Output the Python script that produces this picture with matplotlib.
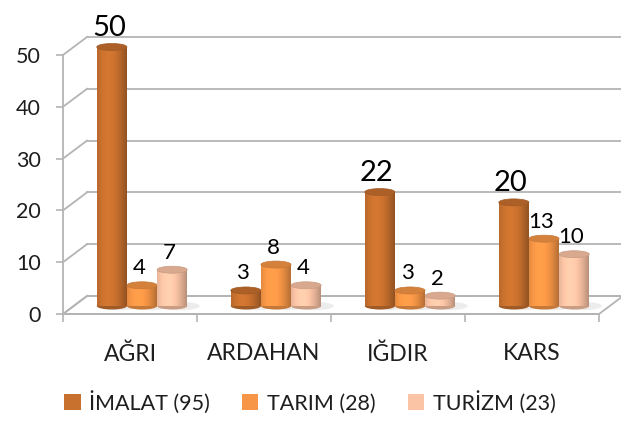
import numpy as np
import matplotlib
matplotlib.use('Agg')
import matplotlib.pyplot as plt
from matplotlib.patches import Ellipse, Polygon, Patch
from matplotlib import transforms as mtransforms
from matplotlib.colors import to_rgb

plt.rcParams['font.family'] = ['Lato', 'DejaVu Sans']

# veriler
iller = ['AĞRI', 'ARDAHAN', 'IĞDIR', 'KARS']
imalat = [50, 3, 22, 20]
tarim = [4, 8, 3, 13]
turizm = [7, 4, 2, 10]
seri_adlari = ['İMALAT (95)', 'TARIM (28)', 'TURİZM (23)']
seriler = [imalat, tarim, turizm]
renkler = ['#c8702e', '#f79646', '#fbc4a5']
y_ticks = [0, 10, 20, 30, 40, 50]

grid_c = '#b4b4b4'
text_c = '#1e1e1e'

fig = plt.figure(figsize=(6.21, 4.23), dpi=100)
ax = fig.add_axes([63 / 621, 109 / 423, 536 / 621, 259 / 423])
ax.set_xlim(-0.5, 3.5)
ax.set_ylim(0, 50)

# derinlik kaydirmalari (piksel)
back = mtransforms.offset_copy(ax.transData, fig=fig, x=24, y=18, units='dots')
mid = mtransforms.offset_copy(ax.transData, fig=fig, x=12, y=8, units='dots')
ident = mtransforms.IdentityTransform()

# taban
fig.canvas.draw()
on = ax.transData.transform([(-0.5, 0), (3.5, 0)])
taban = np.vstack([on, on[::-1] + [24, 18]])
ax.add_patch(Polygon(taban, closed=True, facecolor='white', edgecolor=grid_c,
                     lw=1.3, transform=ident, clip_on=False, zorder=1))

# arka duvar cizgileri + sol duvar kosegenleri
for v in y_ticks:
    ax.plot([-0.5, 3.5], [v, v], color=grid_c, lw=1.3, transform=back,
            clip_on=False, zorder=1)
    p = ax.transData.transform([(-0.5, v)])[0]
    ax.plot([p[0], p[0] + 24], [p[1], p[1] + 18], color=grid_c, lw=1.3,
            transform=ident, clip_on=False, zorder=1)


def golge(base, f):
    c = np.array(to_rgb(base)) * f
    return tuple(np.clip(c, 0, 1))


w = 0.225
n = 30
t = (np.arange(n) + 0.5) / n
shade = 0.72 + 0.34 * np.cos((t - 0.38) * np.pi / 1.25)
eh = 7 / 5.18

for j, (vals, col) in enumerate(zip(seriler, renkler)):
    for i, v in enumerate(vals):
        xc = i + (j - 1) * w
        # golge
        ax.add_patch(Ellipse((xc + 0.06, 0), w * 1.3, eh * 1.2, facecolor='#d6d6d6',
                             alpha=0.45, edgecolor='none', transform=mid,
                             clip_on=False, zorder=2))
        ax.add_patch(Ellipse((xc, 0), w, eh, facecolor=golge(col, 0.8),
                             edgecolor='none', transform=mid, clip_on=False,
                             zorder=3 + j))
        xs = xc - w / 2 + t * w
        ax.bar(xs, [v] * n, width=w / n * 1.05, color=[golge(col, s) for s in shade],
               linewidth=0, antialiased=False, transform=mid, clip_on=False,
               zorder=3 + j)
        ax.add_patch(Ellipse((xc, v), w, eh, facecolor=golge(col, 0.86),
                             edgecolor=golge(col, 0.8), lw=0.5, transform=mid,
                             clip_on=False, zorder=3 + j))
        fs = 21 if v >= 20 else 16
        ax.annotate(str(v), xy=(xc, v), xycoords=mid, xytext=(-3, 11),
                    textcoords='offset pixels', ha='center', va='baseline',
                    fontsize=fs, color='black', zorder=10)

ax.set_xlim(-0.5, 3.5)
ax.set_ylim(0, 50)

for s in ['top', 'right']:
    ax.spines[s].set_visible(False)
ax.spines['left'].set_color(grid_c)
ax.spines['left'].set_linewidth(1.3)
ax.spines['bottom'].set_color(grid_c)
ax.spines['bottom'].set_linewidth(1.3)
ax.spines['bottom'].set_zorder(2)

ax.set_yticks(y_ticks)
ax.tick_params(axis='y', direction='out', length=5, width=1.2, color=grid_c,
               labelsize=15.5, pad=11, labelcolor=text_c)
ax.set_xticks([-0.5, 0.5, 1.5, 2.5, 3.5])
ax.set_xticklabels([])
ax.tick_params(axis='x', which='major', direction='out', length=6, width=1.2,
               color=grid_c)
ax.set_xticks([0, 1, 2, 3], minor=True)
ax.set_xticklabels(iller, minor=True)
ax.tick_params(axis='x', which='minor', length=0, labelsize=16.5, pad=21,
               labelcolor=text_c)
ax.patch.set_visible(False)

handles = [Patch(facecolor=c, edgecolor='none') for c in renkler]
fig.legend(handles, seri_adlari, loc='center', bbox_to_anchor=(310 / 621, 21 / 423),
           ncol=3, frameon=False, fontsize=15.5, handlelength=0.75, handleheight=0.75,
           handletextpad=0.4, columnspacing=1.5, labelcolor=text_c)

fig.savefig('out.png', dpi=100)
